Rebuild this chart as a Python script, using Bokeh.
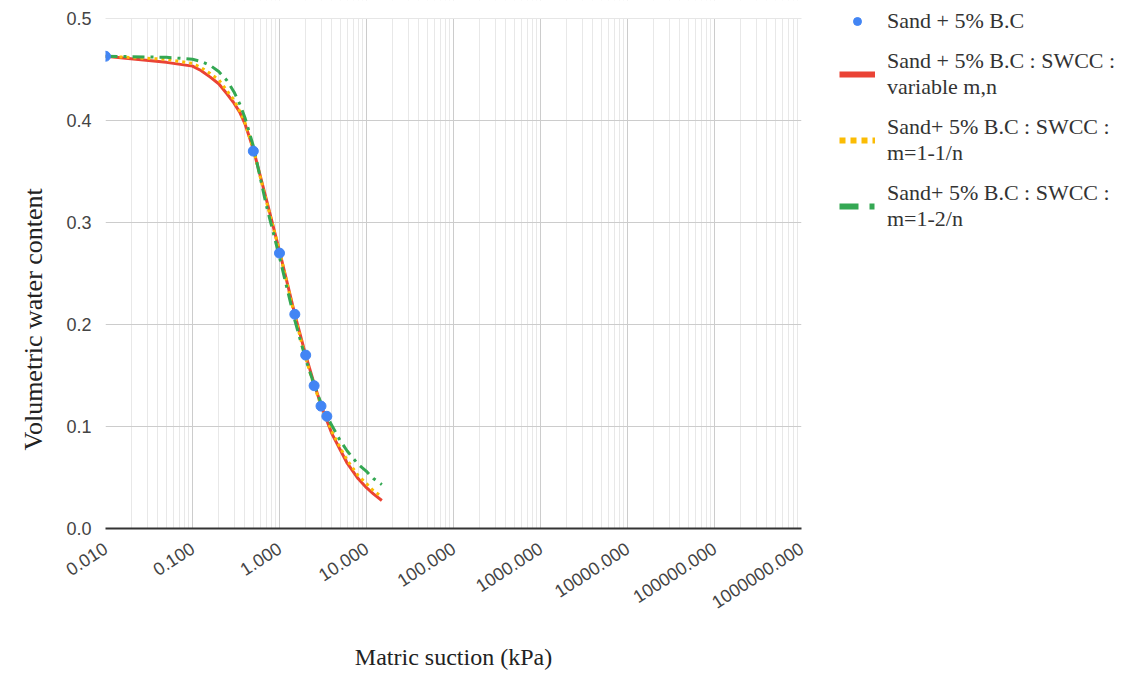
from bokeh.plotting import figure
from bokeh.embed import file_html
from bokeh.resources import INLINE
from bokeh.layouts import row
from bokeh.models import FixedTicker, PrintfTickFormatter, Legend, LegendItem, Title, BoxAnnotation
import math

# measured points
suction_pts = [0.01, 0.5, 1.0, 1.5, 2.0, 2.5, 3.0, 3.5]
theta_pts = [0.463, 0.37, 0.27, 0.21, 0.17, 0.14, 0.12, 0.11]

# fitted SWCC curves
curve_x = [0.01, 0.05, 0.1, 0.125, 0.16, 0.2, 0.25, 0.3, 0.35, 0.4, 0.5, 0.7, 1.0, 1.5,
           2.0, 2.5, 3.0, 3.5, 4.0, 5.0, 6.0, 8.0, 10.0, 12.0, 15.0]
red_vals = [0.463, 0.457, 0.4533, 0.449, 0.4425, 0.436, 0.426, 0.417, 0.408, 0.397, 0.372, 0.324,
            0.272, 0.210, 0.170, 0.142, 0.121, 0.106, 0.093, 0.077, 0.064, 0.049, 0.040, 0.034, 0.0275]
yellow_vals = [0.463, 0.460, 0.456, 0.452, 0.446, 0.440, 0.429, 0.420, 0.409, 0.398, 0.372, 0.322,
               0.272, 0.208, 0.167, 0.140, 0.121, 0.107, 0.095, 0.079, 0.067, 0.052, 0.044, 0.037, 0.031]
green_vals = [0.463, 0.462, 0.460, 0.458, 0.454, 0.448, 0.439, 0.428, 0.416, 0.403, 0.375, 0.318,
              0.266, 0.204, 0.166, 0.141, 0.123, 0.110, 0.101, 0.086, 0.076, 0.063, 0.056, 0.049, 0.043]

x_ticks = [0.01, 0.1, 1, 10, 100, 1000, 10000, 100000, 1000000]
y_ticks = [0.0, 0.1, 0.2, 0.3, 0.4, 0.5]
y_max = 0.5
labels = ["Sand + 5% B.C", "Sand + 5% B.C : SWCC :\nvariable m,n",
          "Sand+ 5% B.C : SWCC :\nm=1-1/n", "Sand+ 5% B.C : SWCC :\nm=1-2/n"]

BLUE, RED, YELLOW, GREEN = "#4285F4", "#EA4335", "#FBBC04", "#34A853"

minor = [k * 10.0 ** e for e in range(-2, 6) for k in range(2, 10)]

H, BOTTOM, TOP_PAD = 680, 152, 18
frame_h = H - BOTTOM
y_top = y_max * frame_h / (frame_h - TOP_PAD)   # keeps 0.5 at 18px from top, frame reaches canvas top

p = figure(width=815, height=H, x_axis_type="log", x_range=(0.01, 1000000), y_range=(0, y_top),
           output_backend="svg", toolbar_location=None, title=None,
           min_border_left=105, min_border_right=14, min_border_top=0, min_border_bottom=BOTTOM)
p.outline_line_color = None
p.background_fill_color = "white"

p.xaxis.ticker = FixedTicker(ticks=x_ticks, minor_ticks=minor)
p.xaxis.formatter = PrintfTickFormatter(format="%.3f")
p.yaxis.ticker = FixedTicker(ticks=y_ticks)
p.yaxis.formatter = PrintfTickFormatter(format="%.1f")

for ax in (p.xaxis, p.yaxis):
    ax.major_tick_line_color = None
    ax.minor_tick_line_color = None
    ax.major_label_text_font = "Liberation Sans"
    ax.major_label_text_color = "#444444"
p.yaxis.axis_line_color = None
p.xaxis.axis_line_color = "#333333"
p.xaxis.axis_line_width = 2
p.xaxis.major_label_text_font_size = "18px"
p.yaxis.major_label_text_font_size = "18px"
p.xaxis.major_label_orientation = math.radians(33)
p.xaxis.major_label_standoff = 12
p.yaxis.major_label_standoff = 8
p.xaxis.axis_label = "Matric suction (kPa)"
p.xaxis.axis_label_text_font = "Liberation Serif"
p.xaxis.axis_label_text_font_style = "normal"
p.xaxis.axis_label_text_font_size = "24px"
p.xaxis.axis_label_text_color = "#222222"
p.xaxis.axis_label_standoff = 26

ytitle = Title(text="Volumetric water content", align="left", offset=78, standoff=32,
               text_font="Liberation Serif", text_font_size="26px", text_font_style="normal",
               text_color="#222222")
p.add_layout(ytitle, "left")

p.xgrid.grid_line_color = "#cccccc"
p.xgrid.minor_grid_line_color = "#e8e8e8"
p.ygrid.grid_line_color = "#cccccc"

# white mask above the top of the value axis
p.add_layout(BoxAnnotation(bottom=y_max, fill_color="white", fill_alpha=1.0, line_color=None))

p.line(curve_x, red_vals, line_color=RED, line_width=3)
p.line(curve_x, yellow_vals, line_color=YELLOW, line_width=3, line_dash="3 4")
p.line(curve_x, green_vals, line_color=GREEN, line_width=3, line_dash="12 6 3 6")
p.scatter(suction_pts, theta_pts, size=10, fill_color=BLUE, line_color=BLUE)

# legend panel (same series, drawn off-range so only the legend shows)
q = figure(width=318, height=H, x_range=(1000, 1001), y_range=(0, 1), output_backend="svg",
           toolbar_location=None, title=None, x_axis_location=None, y_axis_location=None,
           min_border_left=0, min_border_right=0, min_border_top=0, min_border_bottom=0)
q.outline_line_color = None
q.xgrid.visible = False
q.ygrid.visible = False
l_pts = q.scatter(suction_pts, theta_pts, size=16, fill_color=BLUE, line_color=BLUE)
l_red = q.line(curve_x, red_vals, line_color=RED, line_width=6)
l_yel = q.line(curve_x, yellow_vals, line_color=YELLOW, line_width=6, line_dash="6 5")
l_grn = q.line(curve_x, green_vals, line_color=GREEN, line_width=6, line_dash="19 11 5 11")

legend = Legend(items=[LegendItem(label=labels[0], renderers=[l_pts]),
                       LegendItem(label=labels[1], renderers=[l_red]),
                       LegendItem(label=labels[2], renderers=[l_yel]),
                       LegendItem(label=labels[3], renderers=[l_grn])],
                location=(24, 296), orientation="vertical")
legend.label_text_font = "Liberation Serif"
legend.label_text_font_size = "22px"
legend.label_text_color = "#333333"
legend.border_line_color = None
legend.background_fill_alpha = 0
legend.glyph_width = 36
legend.glyph_height = 20
legend.label_standoff = 12
legend.spacing = 14
legend.padding = 4
legend.margin = 0
legend.label_text_line_height = 1.2
q.add_layout(legend, "center")

layout = row(p, q, spacing=0)
open("out.html", "w").write(file_html(layout, INLINE))
